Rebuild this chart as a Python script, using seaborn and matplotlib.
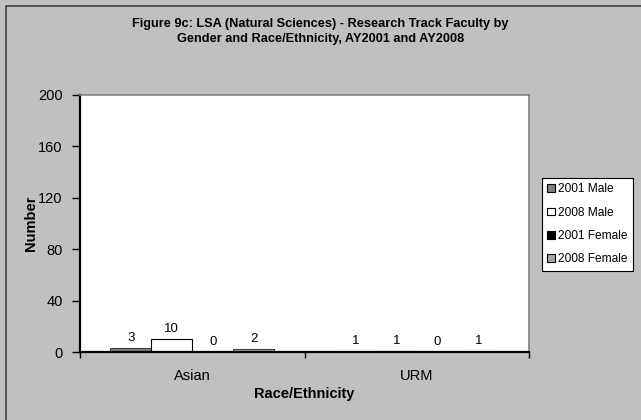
import matplotlib
matplotlib.use("Agg")
import matplotlib.pyplot as plt
import seaborn as sns
import pandas as pd
from matplotlib.lines import Line2D

categories = ["Asian", "URM"]
series = ["2001 Male", "2008 Male", "2001 Female", "2008 Female"]
male_2001 = [3, 1]
male_2008 = [10, 1]
female_2001 = [0, 0]
female_2008 = [2, 1]
yticks = [0, 40, 80, 120, 160, 200]

values = [male_2001, male_2008, female_2001, female_2008]
rows = []
for s, vals in zip(series, values):
    for c, v in zip(categories, vals):
        rows.append({"Race/Ethnicity": c, "Series": s, "Number": v})
df = pd.DataFrame(rows)

sns.set_style("white")
plt.rcParams["font.family"] = ["Liberation Sans", "DejaVu Sans"]
plt.rcParams["text.color"] = "black"
plt.rcParams["axes.labelcolor"] = "black"
plt.rcParams["xtick.color"] = "black"
plt.rcParams["ytick.color"] = "black"

bg = "#c0c0c0"
fig = plt.figure(figsize=(6.41, 4.2), dpi=100, facecolor=bg)
# outer border (left and top edges visible)
fig.lines.append(Line2D([5.5 / 641, 5.5 / 641, 1.0], [0.0, 1 - 5.5 / 420, 1 - 5.5 / 420],
                        transform=fig.transFigure, color="#404040", linewidth=1.2))
ax = fig.add_axes([80 / 641, 68 / 420, 449 / 641, 257 / 420])
ax.set_facecolor("white")

faces = ["#808080", "#ffffff", "#000000", "#a6a6a6"]
edges = ["#404040", "#000000", "#000000", "#404040"]
sns.barplot(data=df, x="Race/Ethnicity", y="Number", hue="Series",
            hue_order=series, order=categories, palette=faces,
            width=0.73, ax=ax, legend=True, linewidth=0.8, edgecolor="black")

for cont, ec in zip(ax.containers, edges):
    for p in cont.patches:
        p.set_edgecolor(ec)
    ax.bar_label(cont, padding=3, fontsize=9.5)

ax.set_ylim(0, 200)
ax.set_yticks(yticks)
ax.set_yticklabels([str(t) for t in yticks], fontsize=10.5)
ax.set_xlim(-0.5, 1.5)
ax.set_xticks([0, 1])
ax.set_xticklabels(categories, fontsize=10.5)
ax.tick_params(axis="x", length=0, pad=12)
ax.set_xticks([-0.5, 0.5, 1.5], minor=True)
ax.tick_params(axis="x", which="minor", length=4, direction="out", bottom=True, width=1)
ax.tick_params(axis="y", length=5.5, direction="out", left=True, width=1, pad=7)

for s in ["left", "bottom"]:
    ax.spines[s].set_color("black")
    ax.spines[s].set_linewidth(1.6)
for s in ["top", "right"]:
    ax.spines[s].set_color("#808080")
    ax.spines[s].set_linewidth(1.2)

ax.set_xlabel("Race/Ethnicity", fontsize=10.5, fontweight="bold", labelpad=3)
ax.set_ylabel("Number", fontsize=10.5, fontweight="bold", labelpad=0)

fig.suptitle("Figure 9c: LSA (Natural Sciences) - Research Track Faculty by\nGender and Race/Ethnicity, AY2001 and AY2008",
             fontsize=9.2, fontweight="bold", y=0.958, linespacing=1.4)

leg = ax.legend(loc="upper left", bbox_to_anchor=(542 / 641, 242 / 420),
                bbox_transform=fig.transFigure, frameon=True, fontsize=8.6,
                handlelength=0.6, handleheight=0.6, handletextpad=0.3,
                labelspacing=0.95, borderpad=0.45, borderaxespad=0, fancybox=False)
leg.get_frame().set_edgecolor("black")
leg.get_frame().set_linewidth(0.8)
leg.get_frame().set_facecolor("white")
leg.get_frame().set_alpha(1)

fig.savefig("out.png", dpi=100, facecolor=bg)
